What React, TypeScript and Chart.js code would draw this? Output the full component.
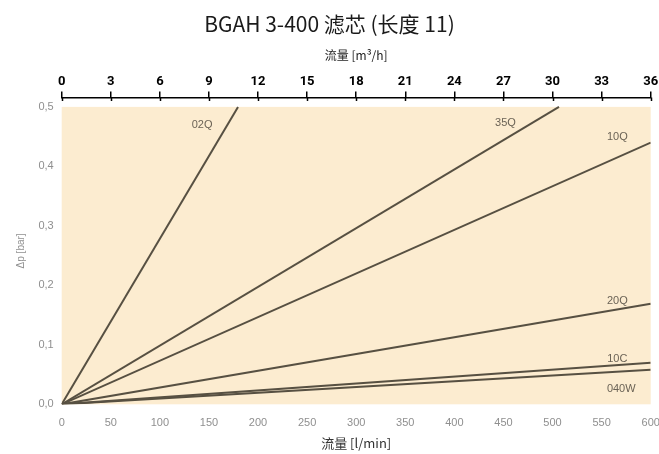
import React, { useEffect, useRef } from 'react';
import { Chart, registerables } from 'chart.js';
Chart.register(...registerables);

const TITLE = 'BGAH 3-400 滤芯 (长度 11)';
const TOP_AXIS_TITLE = '流量 [m³/h]';
const BOTTOM_AXIS_TITLE = '流量 [l/min]';
const Y_AXIS_TITLE = 'Δp [bar]';

const seriesNames = ['02Q', '35Q', '10Q', '20Q', '10C', '040W'];
const q02X = [0, 179.6];
const q02Y = [0, 0.5];
const q35X = [0, 506.6];
const q35Y = [0, 0.5];
const q10X = [0, 600];
const q10Y = [0, 0.44];
const q20X = [0, 600];
const q20Y = [0, 0.169];
const c10X = [0, 600];
const c10Y = [0, 0.07];
const w040X = [0, 600];
const w040Y = [0, 0.058];
const seriesX = [q02X, q35X, q10X, q20X, c10X, w040X];
const seriesY = [q02Y, q35Y, q10Y, q20Y, c10Y, w040Y];

const labelX = [143, 452, 566, 566, 566, 570];
const labelY = [0.469, 0.473, 0.45, 0.174, 0.077, 0.026];

const yTicks = [0, 0.1, 0.2, 0.3, 0.4, 0.5];
const lminMax = 600;
const m3hMax = 36;

const CREAM = '#fcecd0';
const LINE = '#575042';

const bgPlugin = {
  id: 'bgPlugin',
  beforeDraw(chart: any) {
    const { ctx, scales } = chart;
    const x = scales.x, y = scales.y;
    const l = x.getPixelForValue(0), r = x.getPixelForValue(lminMax);
    const t = y.getPixelForValue(0.5), b = y.getPixelForValue(0);
    ctx.save();
    ctx.fillStyle = CREAM;
    ctx.fillRect(l, t, r - l, b - t);
    ctx.restore();
  },
};

const labelPlugin = {
  id: 'labelPlugin',
  afterDatasetsDraw(chart: any) {
    const { ctx, scales } = chart;
    ctx.save();
    ctx.font = '11px "Liberation Sans", sans-serif';
    ctx.fillStyle = '#6b6356';
    ctx.textAlign = 'center';
    ctx.textBaseline = 'middle';
    seriesNames.forEach((n, i) => {
      ctx.fillText(n, scales.x.getPixelForValue(labelX[i]), scales.y.getPixelForValue(labelY[i]));
    });
    ctx.restore();
  },
};

const tickExtPlugin = {
  id: 'tickExtPlugin',
  afterDraw(chart: any) {
    const { ctx, scales, chartArea } = chart;
    const s = scales.x2;
    ctx.save();
    ctx.strokeStyle = '#000';
    ctx.lineWidth = 1.5;
    s.ticks.forEach((t: any) => {
      const px = Math.round(s.getPixelForValue(t.value)) + 0.5;
      ctx.beginPath();
      ctx.moveTo(px, chartArea.top);
      ctx.lineTo(px, chartArea.top + 3.5);
      ctx.stroke();
    });
    ctx.restore();
  },
};

export default function App() {
  const ref = useRef<HTMLCanvasElement>(null);
  useEffect(() => {
    if (!ref.current) return;
    const chart = new Chart(ref.current, {
      type: 'line',
      data: {
        datasets: seriesNames.map((n, i) => ({
          label: n,
          data: seriesX[i].map((xv, j) => ({ x: xv, y: seriesY[i][j] })),
          borderColor: LINE,
          borderWidth: 2,
          pointRadius: 0,
          fill: false,
          tension: 0,
          xAxisID: 'x',
          yAxisID: 'y',
        })),
      },
      options: {
        animation: false,
        responsive: false,
        layout: { padding: { left: 0, right: 0, top: 0, bottom: 0 } },
        plugins: {
          legend: { display: false },
          tooltip: { enabled: false },
          title: {
            display: true,
            text: TITLE,
            color: '#1a1a1a',
            font: { family: '"Noto Sans CJK SC", sans-serif', size: 21, weight: 'normal' },
            padding: { top: 11, bottom: 0 },
          },
        },
        scales: {
          x: {
            type: 'linear',
            position: 'bottom',
            min: 0,
            max: lminMax,
            grid: { display: false, drawTicks: false },
            border: { display: false },
            ticks: {
              stepSize: 50,
              autoSkip: false,
              maxRotation: 0,
              padding: 12,
              color: '#8f8f8f',
              font: { family: '"Liberation Sans", sans-serif', size: 11 },
            },
            title: {
              display: true,
              text: BOTTOM_AXIS_TITLE,
              color: '#333',
              font: { family: '"Noto Sans CJK SC", sans-serif', size: 13 },
              padding: { top: 0, bottom: 3 },
            },
            afterFit(scale: any) { scale.height = 49.7; scale.paddingRight = 8.3; },
          },
          x2: {
            type: 'linear',
            position: 'top',
            min: 0,
            max: m3hMax,
            grid: { display: true, drawOnChartArea: false, drawTicks: true, tickLength: 6, color: '#000', lineWidth: 1.5 },
            border: { display: true, color: '#000', width: 1.5 },
            ticks: {
              stepSize: 3,
              autoSkip: false,
              maxRotation: 0,
              padding: 2,
              color: '#000',
              font: { family: 'Roboto, sans-serif', size: 13, weight: 'bold' },
            },
            title: {
              display: true,
              text: TOP_AXIS_TITLE,
              color: '#222',
              font: { family: '"Noto Sans CJK SC", sans-serif', size: 12 },
              padding: { top: 12, bottom: 0 },
            },
            afterFit(scale: any) { scale.height = 61.3; scale.paddingRight = 8.3; },
          },
          y: {
            type: 'linear',
            min: 0,
            max: 0.5158,
            grid: { display: false, drawTicks: false },
            border: { display: false },
            afterBuildTicks(scale: any) { scale.ticks = yTicks.map((v) => ({ value: v })); },
            ticks: {
              padding: 8,
              color: '#8f8f8f',
              font: { family: '"Liberation Sans", sans-serif', size: 11 },
              callback: (v: any) => Number(v).toFixed(1).replace('.', ','),
            },
            title: {
              display: true,
              text: Y_AXIS_TITLE,
              color: '#8f8f8f',
              font: { family: '"Liberation Sans", sans-serif', size: 10 },
              padding: { top: 15, bottom: 0 },
            },
            afterFit(scale: any) { scale.width = 61.7; },
          },
        },
      },
      plugins: [bgPlugin, labelPlugin, tickExtPlugin],
    } as any);
    return () => chart.destroy();
  }, []);
  return (
    <div style={{ position: 'absolute', left: 0, top: 0, width: 659, height: 454, background: '#fff' }}>
      <canvas ref={ref} width={659} height={454} style={{ display: 'block' }} />
    </div>
  );
}
